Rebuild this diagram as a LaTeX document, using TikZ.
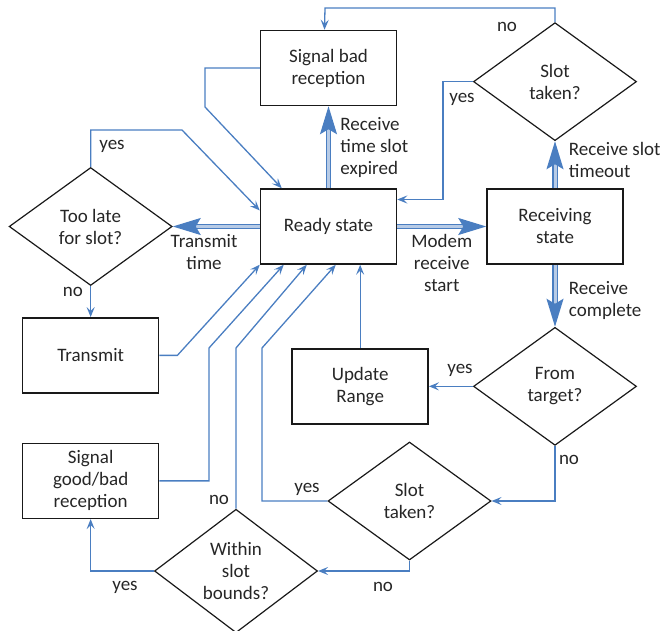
\documentclass[tikz,border=0pt]{standalone}
\usepackage{fontspec}
\setmainfont{Carlito}
\usetikzlibrary{positioning,shapes.geometric,arrows.meta}
\definecolor{flowblue}{RGB}{74,126,193}
\tikzset{
	box/.style={draw=black!90, line width=1.5pt, minimum width=136pt, minimum height=75pt, align=center, inner sep=1pt},
	dec/.style={draw=black!90, diamond, line width=1.2pt, minimum width=163pt, minimum height=118pt, align=center, inner sep=0pt},
	flow/.style={draw=flowblue, line width=1.3pt, -{Stealth[length=10pt,width=8pt,inset=4pt]}},
	bigflow/.style={draw=flowblue, line width=1.3pt, double=flowblue!40, double distance=3pt, -{Stealth[length=28pt,width=17pt,inset=5pt]}},
	lbl/.style={inner sep=1pt, align=center},
}

\begin{document}
\begin{tikzpicture}[x=1pt, y=-1pt, font=\fontsize{19}{22}\selectfont, text=black!85]
	\useasboundingbox (0,0) rectangle (661,631);

	\node[box] (ready) at (328.5,226.5) {Ready state};
	\node[box, above=82pt of ready] (badrx) {Signal bad\\reception};
	\node[box, right=89pt of ready] (recv) {Receiving\\state};
	\node[dec, left=87pt of ready] (toolate) {Too late\\for slot?};
	\node[dec, above=47pt of recv] (slotA) {Slot\\taken?};
	\node[dec, below=62pt of recv] (target) {From\\target?};
	\node[box, left=44pt of target] (update) {Update\\Range};
	\node[box, below=31pt of toolate] (transmit) {Transmit};
	\node[box, below=49pt of transmit] (goodbad) {Signal\\good/bad\\reception};
	\node[dec] (slotB) at (409.5,501) {Slot\\taken?};
	\node[dec] (within) at (236,571) {Within\\slot\\bounds?};

	\draw[bigflow] (ready.north) -- (badrx.south) node[midway, right, xshift=8pt, align=left] (lexp) {Receive\\time slot\\expired};
	\draw[bigflow] (ready.west) -- (toolate.east) node[pos=0.64, below=4pt, align=center] (ltx) {Transmit\\time};
	\draw[bigflow] (ready.east) -- (recv.west) node[midway, below=4pt, align=center] (lmodem) {Modem\\receive\\start};
	\draw[bigflow] (recv.north) -- (slotA.south) node[midway, right, xshift=10pt, yshift=5pt, align=left] (ltimeout) {Receive slot\\timeout};
	\draw[bigflow] (recv.south) -- (target.north) node[midway, right, xshift=10pt, yshift=-5pt, align=left] (lcomplete) {Receive\\complete};

	\draw[flow] (toolate.north) |- (182,130) -- ([yshift=16pt]ready.west);
	\draw[flow] (badrx.west) -| (205,107) -- ([xshift=22pt]ready.north west);
	\draw[flow] (slotA.north) |- (325,8) -- ([xshift=-4pt]badrx.north);
	\draw[flow] (slotA.west) -- ++(-30,0) |- ([yshift=27pt]ready.east);
	\draw[flow] (toolate.south) -- (transmit.north);
	\draw[flow] (transmit.east) -- ++(18,0) -- (ready.south west);
	\draw[flow] (goodbad.east) -| (209,348) -- ([xshift=24pt]ready.south west);
	\draw[flow] (within.north) -- (236,348) -- ([xshift=47pt]ready.south west);
	\draw[flow] (slotB.west) -| (262,348) -- ([xshift=76pt]ready.south west);
	\draw[flow] (update.north) -- (update.north |- ready.south);
	\draw[flow] (target.west) -- (update.east);
	\draw[flow] (target.south) |- (slotB.east);
	\draw[flow] (slotB.south) |- (within.east);
	\draw[flow] (within.west) -| (goodbad.south);

	\node[lbl] (y1) at (112,146) {yes};
	\node[lbl] (n1) at (73,292) {no};
	\node[lbl] (n2) at (507,27) {no};
	\node[lbl] (y2) at (462,99) {yes};
	\node[lbl] (y3) at (460,370) {yes};
	\node[lbl] (n3) at (569,460) {no};
	\node[lbl] (n4) at (383,587) {no};
	\node[lbl] (y4) at (307,489) {yes};
	\node[lbl] (n5) at (219,500) {no};
	\node[lbl] (y5) at (125,587) {yes};
\end{tikzpicture}
\end{document}
